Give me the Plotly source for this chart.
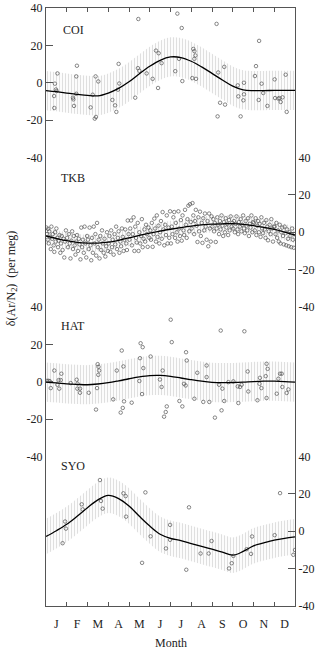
import plotly.graph_objects as go
from plotly.subplots import make_subplots

# month axis (0 = 1 Jan, 12 = 31 Dec)
MONTHS = ["J", "F", "M", "A", "M", "J", "J", "A", "S", "O", "N", "D"]
month_mid = [0.5, 1.5, 2.5, 3.5, 4.5, 5.5, 6.5, 7.5, 8.5, 9.5, 10.5, 11.5]
month_edges = [1, 2, 3, 4, 5, 6, 7, 8, 9, 10, 11]

Y_TICKS = [-40, -20, 0, 20, 40]
Y_LABELS = ["-40", "-20", "0", "20", "40"]

# fitted seasonal curves, sampled every half month
fit_x = [0, 0.5, 1, 1.5, 2, 2.5, 3, 3.5, 4, 4.5, 5, 5.5, 6, 6.5, 7, 7.5, 8, 8.5,
         9, 9.5, 10, 10.5, 11, 11.5, 12]
coi_fit = [-4.2, -4.8, -5.5, -6.2, -6.8, -7.0, -5.5, -3.0, 0.5, 4.8, 8.8, 12.0, 13.8,
           13.5, 11.5, 8.5, 5.0, 1.5, -1.8, -3.8, -4.2, -4.2, -4.1, -4.1, -4.1]
tkb_fit = [-2.0, -3.3, -4.5, -5.4, -5.8, -5.8, -5.3, -4.3, -3.0, -1.7, -0.5, 0.6, 1.6,
           2.5, 3.3, 3.9, 4.3, 4.5, 4.6, 4.2, 3.5, 2.6, 1.5, 0.1, -1.5]
hat_fit = [-0.2, -0.6, -1.1, -1.4, -1.6, -1.2, -0.5, 0.5, 1.6, 2.6, 3.3, 3.4, 2.9,
           2.0, 1.1, 0.3, -0.3, -0.5, -0.4, -0.2, 0.1, 0.3, 0.3, 0.1, -0.2]
syo_fit = [-2.8, 0.3, 3.7, 8.0, 12.6, 16.8, 19.2, 17.5, 13.5, 8.0, 2.8, -1.6, -3.8,
           -5.0, -6.6, -8.1, -9.6, -11.2, -12.8, -10.8, -7.8, -6.2, -4.8, -3.8, -3.0]

# half width of the hatched uncertainty band
coi_band = 10.5
tkb_band = 4.5
hat_band = 10.5
syo_band = 9.5

# observations
coi_x = [0.55, 0.43, 0.48, 0.51, 0.39, 0.40, 1.49, 1.46, 1.46, 1.30, 1.32, 1.35, 2.15,
         2.25, 2.39, 2.52, 2.35, 2.41, 3.20, 3.33, 3.39, 3.50, 3.53, 3.47, 4.30, 4.43,
         4.50, 4.45, 4.85, 5.14, 5.30, 5.43, 5.40, 5.57, 6.33, 6.54, 6.41, 6.23, 6.57,
         7.10, 7.15, 7.20, 7.15, 7.05, 7.23, 8.22, 8.30, 8.59, 8.39, 8.63, 8.27, 10.27,
         10.12, 10.07, 9.24, 9.54, 9.27, 9.54, 9.51, 9.38, 10.39, 10.25, 10.47, 10.67,
         11.02, 11.04, 11.20, 11.25, 11.40, 11.31, 11.55, 11.60]
coi_y = [5.0, -0.5, -3.6, -4.4, -7.1, -13.5, 9.1, 3.4, -5.9, -8.0, -8.9, -12.4, -13.2,
         -6.4, 3.4, 0.7, -19.2, -18.3, -9.2, -12.1, -15.6, 10.1, -0.4, -3.7, -8.0, 7.8,
         6.4, 34.1, 5.0, 2.1, 17.2, 15.8, -2.8, 10.5, 37.0, 29.3, 12.8, 6.2, 0.9,
         18.1, 16.9, 14.6, 12.8, 2.5, 2.1, 31.5, 5.5, 8.5, -10.7, -11.7, -18.0, 22.4,
         8.9, 3.6, -1.4, 0.0, -7.3, -6.2, -9.4, -18.0, -0.5, -9.2, -5.5, -12.4,
         1.8, -8.2, -8.5, -8.2, -7.8, -10.3, 4.3, -15.6]

tkb_x = [
    0.02, 0.05, 0.08, 0.10, 0.13, 0.16, 0.20, 0.23, 0.26, 0.30, 0.33, 0.37, 0.40, 0.44,
    0.47, 0.50, 0.54, 0.58, 0.61, 0.65, 0.69, 0.72, 0.76, 0.80, 0.84, 0.88, 0.92, 0.96,
    1.02, 1.06, 1.10, 1.14, 1.18, 1.22, 1.26, 1.30, 1.34, 1.38, 1.42, 1.46, 1.50, 1.54,
    1.58, 1.62, 1.66, 1.70, 1.74, 1.78, 1.82, 1.86, 1.90, 1.94, 1.98,
    2.02, 2.06, 2.10, 2.14, 2.18, 2.22, 2.26, 2.30, 2.34, 2.38, 2.42, 2.46, 2.50, 2.54,
    2.58, 2.62, 2.66, 2.70, 2.74, 2.78, 2.82, 2.86, 2.90, 2.94, 2.98,
    3.02, 3.06, 3.10, 3.14, 3.18, 3.22, 3.26, 3.30, 3.34, 3.38, 3.42, 3.46, 3.50, 3.54,
    3.58, 3.62, 3.66, 3.70, 3.74, 3.78, 3.82, 3.86, 3.90, 3.94, 3.98,
    4.02, 4.06, 4.10, 4.14, 4.18, 4.22, 4.26, 4.30, 4.34, 4.38, 4.42, 4.46, 4.50, 4.54,
    4.58, 4.62, 4.66, 4.70, 4.74, 4.78, 4.82, 4.86, 4.90, 4.94, 4.98,
    5.02, 5.06, 5.10, 5.14, 5.18, 5.22, 5.26, 5.30, 5.34, 5.38, 5.42, 5.46, 5.50, 5.54,
    5.58, 5.62, 5.66, 5.70, 5.74, 5.78, 5.82, 5.86, 5.90, 5.94, 5.98,
    6.02, 6.06, 6.10, 6.14, 6.18, 6.22, 6.26, 6.30, 6.34, 6.38, 6.42, 6.46, 6.50, 6.54,
    6.58, 6.62, 6.66, 6.70, 6.74, 6.78, 6.82, 6.86, 6.90, 6.94, 6.98,
    7.02, 7.06, 7.10, 7.14, 7.18, 7.22, 7.26, 7.30, 7.34, 7.38, 7.42, 7.46, 7.50, 7.54,
    7.58, 7.62, 7.66, 7.70, 7.74, 7.78, 7.82, 7.86, 7.90, 7.94, 7.98,
    8.02, 8.06, 8.10, 8.14, 8.18, 8.22, 8.26, 8.30, 8.34, 8.38, 8.42, 8.46, 8.50, 8.54,
    8.58, 8.62, 8.66, 8.70, 8.74, 8.78, 8.82, 8.86, 8.90, 8.94, 8.98,
    9.02, 9.06, 9.10, 9.14, 9.18, 9.22, 9.26, 9.30, 9.34, 9.38, 9.42, 9.46, 9.50, 9.54,
    9.58, 9.62, 9.66, 9.70, 9.74, 9.78, 9.82, 9.86, 9.90, 9.94, 9.98,
    10.02, 10.06, 10.10, 10.14, 10.18, 10.22, 10.26, 10.30, 10.34, 10.38, 10.42, 10.46,
    10.50, 10.54, 10.58, 10.62, 10.66, 10.70, 10.74, 10.78, 10.82, 10.86, 10.90, 10.94,
    10.98,
    11.02, 11.06, 11.10, 11.14, 11.18, 11.22, 11.26, 11.30, 11.34, 11.38, 11.42, 11.46,
    11.50, 11.54, 11.58, 11.62, 11.66, 11.70, 11.74, 11.78, 11.82, 11.86, 11.90, 11.94,
    11.98,
]
tkb_y = [
    2.5, -1, -4, 1.8, -6, 0.5, -2.5, -9, 3, -3.5, -1, -7, -10.5, 0,
    -5, 2, -3, -8, -4.5, -1.5, -11, -6, -2, -9.5, -3.5, -13.5, -5, 1,
    -3, -8, -1, -6, -14, -4.5, 0.5, -9, -2, -7, -12, -5, -1.5, -10,
    -3.5, -6.5, -14.5, 2.5, -8, -4, -11, 3, -6, -13.5, -2,
    -4, -9, 2.5, -7, -15, -3, -11, 3, -6, -1, -12.5, 5, -8, -4,
    -14, -2, -9.5, 1, -6, -11, -3.5, -13, -7.5, 0, -10,
    -6, -2, -10.5, 1, -8, -4, -12, -1, -6.5, 3, -9, -3, 0.5, -11,
    -5, -7.5, 2, -2.5, -10, -4, 1.5, -6, -9.5, 6.3, -1,
    -4, 2, 6.3, -7, -1, 8, -10, 3, -3, -5.5, 5, -10, 0, -6,
    -2, 7, -8, -3.5, 1.5, -5, 4, -1, -7.8, 2.5, -3,
    1, -4, 5, -7.8, -1, 7.3, 2, -5, 9, -2.5, 3.5, -6, 0, 6,
    -3.5, 10.8, 1.5, -7, 4, -1.5, 9, -6, 2.5, -3, 11.2,
    -6, 3, -1, 8, 10.8, -3, 5, 0, -5, 11.2, 2, -2, 6.5, -4.5,
    9, 1, -1.5, 12, 4, -3, 7, 14.2, 0.5, 15, 5.5,
    2, 15.6, 9, -1, 6, 12, 3.5, -5.2, 8, 0.5, 11, -2, 5, -5.7,
    7.5, 1, 10, 3, -4, 6, -7.5, 10, 2, -5, 8.5,
    3, 7, 0.5, 5, -5.2, 2, 8, 4, -1, 6, 1.5, 9, 3.5, -2,
    5.5, 0, 7.5, 2.5, 4.5, -1.5, 6.5, 1, 8.5, 3, 5,
    2, 6, 0, 4.5, 8.5, 1.5, -1, 5.5, 3, 7, 0.5, 4, 9, 2,
    -0.5, 6, 3.5, 1, 7.5, -2, 4.5, 2.5, 9, 0, 5.5,
    5, 1, 7.5, -1.5, 3.5, 6, 0, 4.5, -2.5, 8, 2, -0.5,
    5, 1.5, -3, 6.5, 3, -4.3, 0.5, 4, -1, 7, 2, -5,
    3,
    3, -1, 5, -3, 1, -5, 4, -6, 0, 2.5, -2, -6.5,
    3, -0.5, -7, 1.5, -3.5, -7.5, 0, -2, -8, 2, -4, -8.3,
    -1,
]

hat_x = [0.05, 0.12, 0.18, 0.23, 0.40, 0.55, 0.61, 0.71, 0.64, 0.74, 1.19, 1.48, 1.52,
         1.51, 1.64, 1.64, 2.06, 2.41, 2.46, 2.49, 2.53, 2.56, 2.52, 3.24, 3.41, 3.65,
         3.73, 3.76, 3.60, 3.70, 4.13, 4.56, 4.66, 4.53, 4.69, 4.50, 4.63, 5.04, 5.49,
         5.62, 5.57, 6.01, 6.06, 5.82, 5.77, 5.69, 6.43, 6.57, 6.65, 6.73, 6.75, 6.78,
         7.15, 7.29, 7.58, 7.74, 7.74, 7.87, 8.14, 8.34, 8.42, 8.50, 8.46, 8.59, 8.79,
         9.03, 9.24, 9.35, 9.43, 9.27, 9.56, 9.72, 9.75, 10.19, 10.29, 10.31, 10.38,
         10.59, 10.63, 10.68, 10.63, 11.12, 11.20, 11.28, 11.36, 11.39, 11.60, 11.68]
hat_y = [0.5, 0.5, 0.3, -3.4, 6.0, -1.6, 0.9, 0.9, -3.7, 4.3, -0.7, 1.1, -1.0,
         -3.7, -3.7, -5.9, -5.9, -14.9, -3.4, 9.4, 8.0, 6.0, 3.7, -9.4, 6.0, 16.7,
         8.2, -10.5, -16.5, -14.0, -11.2, 20.6, 18.5, 12.6, 7.3, 0.4, -6.6, 13.5, 1.2,
         6.0, -2.8, 33.2, 21.2, -13.2, -16.2, -18.7, -10.3, -13.2, -1.1, -2.0, 15.8, 11.4,
         -9.1, 4.8, -10.8, 8.7, 2.5, -10.8, -19.2, -1.6, 27.4, -3.7, -15.3, -10.3, -0.2,
         0.2, -2.5, -2.8, -1.6, -11.4, 27.0, 5.5, -5.2, -9.9, -1.1, 2.1, -3.4,
         3.0, 9.6, 6.9, -8.7, -6.4, 1.6, 4.3, 4.3, -2.8, -6.0, -4.1]

syo_x = [0.80, 0.92, 0.96, 1.72, 1.77, 2.60, 2.65, 2.73, 3.73, 3.84, 3.86, 4.63, 4.79,
         5.04, 5.78, 5.98, 5.98, 6.76, 6.89, 7.45, 7.84, 7.98, 8.82, 8.95, 9.03, 9.67,
         9.88, 9.93, 11.02, 11.28, 11.92, 12.0]
syo_y = [-6.4, 5.2, 1.4, 14.4, 11.7, 27.4, 16.2, 12.1, 20.3, 18.8, 7.8, -16.9, 20.8,
         -2.7, -9.2, 3.4, -4.6, -20.6, 12.8, -11.9, -11.9, -5.2, -19.9, -17.1, -13.2, -9.6,
         -12.1, -2.8, -2.1, 20.4, -12.6, -10.0]

stations = [
    ("COI", coi_x, coi_y, coi_fit, coi_band),
    ("TKB", tkb_x, tkb_y, tkb_fit, tkb_band),
    ("HAT", hat_x, hat_y, hat_fit, hat_band),
    ("SYO", syo_x, syo_y, syo_fit, syo_band),
]

AX = "#555555"
FONT = "Times New Roman, Liberation Serif, serif"

fig = make_subplots(rows=4, cols=1, shared_xaxes=True, vertical_spacing=0)

for row, (name, obs_x, obs_y, fit, hw) in enumerate(stations, start=1):
    # hatched band
    fig.add_trace(go.Scatter(
        x=fit_x, y=[v + hw for v in fit], mode="lines",
        line=dict(width=0, shape="spline"), hoverinfo="skip", showlegend=False,
    ), row=row, col=1)
    fig.add_trace(go.Scatter(
        x=fit_x, y=[v - hw for v in fit], mode="lines",
        line=dict(width=0, shape="spline"), fill="tonexty",
        fillcolor="rgba(0,0,0,0)",
        fillpattern=dict(shape="|", size=3, solidity=0.4,
                         fgcolor="#c0c0c0", bgcolor="rgba(0,0,0,0)"),
        hoverinfo="skip", showlegend=False,
    ), row=row, col=1)
    # observations
    fig.add_trace(go.Scatter(
        x=obs_x, y=obs_y, mode="markers", name=name,
        marker=dict(symbol="circle-open", size=3.5, color="#555555",
                    line=dict(width=0.7)),
        showlegend=False,
    ), row=row, col=1)
    # fitted curve
    fig.add_trace(go.Scatter(
        x=fit_x, y=fit, mode="lines",
        line=dict(color="black", width=1.3, shape="spline"),
        hoverinfo="skip", showlegend=False,
    ), row=row, col=1)

    fig.update_yaxes(
        range=[-40, 40], tickvals=Y_TICKS, ticktext=Y_LABELS,
        ticks="inside", ticklen=7, tickcolor=AX, tickwidth=1,
        showline=True, linecolor=AX, linewidth=1.2, mirror=True,
        side="left" if row % 2 else "right",
        showgrid=False, zeroline=False, automargin=False,
        row=row, col=1,
    )

# x axes: ticks at month boundaries, labels mid-month
fig.update_xaxes(range=[0, 12], showgrid=False, zeroline=False, automargin=False)
fig.update_xaxes(
    side="top", showline=True, linecolor=AX, linewidth=1.2,
    tickvals=month_edges, ticks="inside", ticklen=4, tickcolor=AX,
    showticklabels=False, row=1, col=1,
)
fig.update_xaxes(showline=False, ticks="", showticklabels=False, row=2, col=1)
fig.update_xaxes(showline=False, ticks="", showticklabels=False, row=3, col=1)
fig.update_xaxes(
    showline=True, linecolor=AX, linewidth=1.2,
    tickvals=month_mid, ticktext=MONTHS, ticks="", ticklabelstandoff=6,
    minor=dict(tickvals=month_edges, ticks="inside", ticklen=4, tickcolor=AX),
    row=4, col=1,
)

annotations = [
    dict(text="COI", x=0.11, y=0.963),
    dict(text="TKB", x=0.11, y=0.716),
    dict(text="HAT", x=0.11, y=0.468),
    dict(text="SYO", x=0.11, y=0.234),
    dict(text="Month", x=0.5, y=-0.062),
    dict(text="δ(Ar/N<sub>2</sub>)  (per meg)", x=-0.137, y=0.548, textangle=-90),
]
for a in annotations:
    fig.add_annotation(xref="paper", yref="paper", showarrow=False,
                       xanchor="center", yanchor="middle", **a)

fig.update_layout(
    width=320, height=652,
    margin=dict(l=46, r=25, t=8, b=46),
    font=dict(family=FONT, size=12, color="#222222"),
    plot_bgcolor="white", paper_bgcolor="white",
    showlegend=False,
)

# drop the browser's default 8px body margin so the figure sits at the window origin
fig.write_html("out.html", config={"displayModeBar": False},
               post_script="document.body.style.margin = '0';")
